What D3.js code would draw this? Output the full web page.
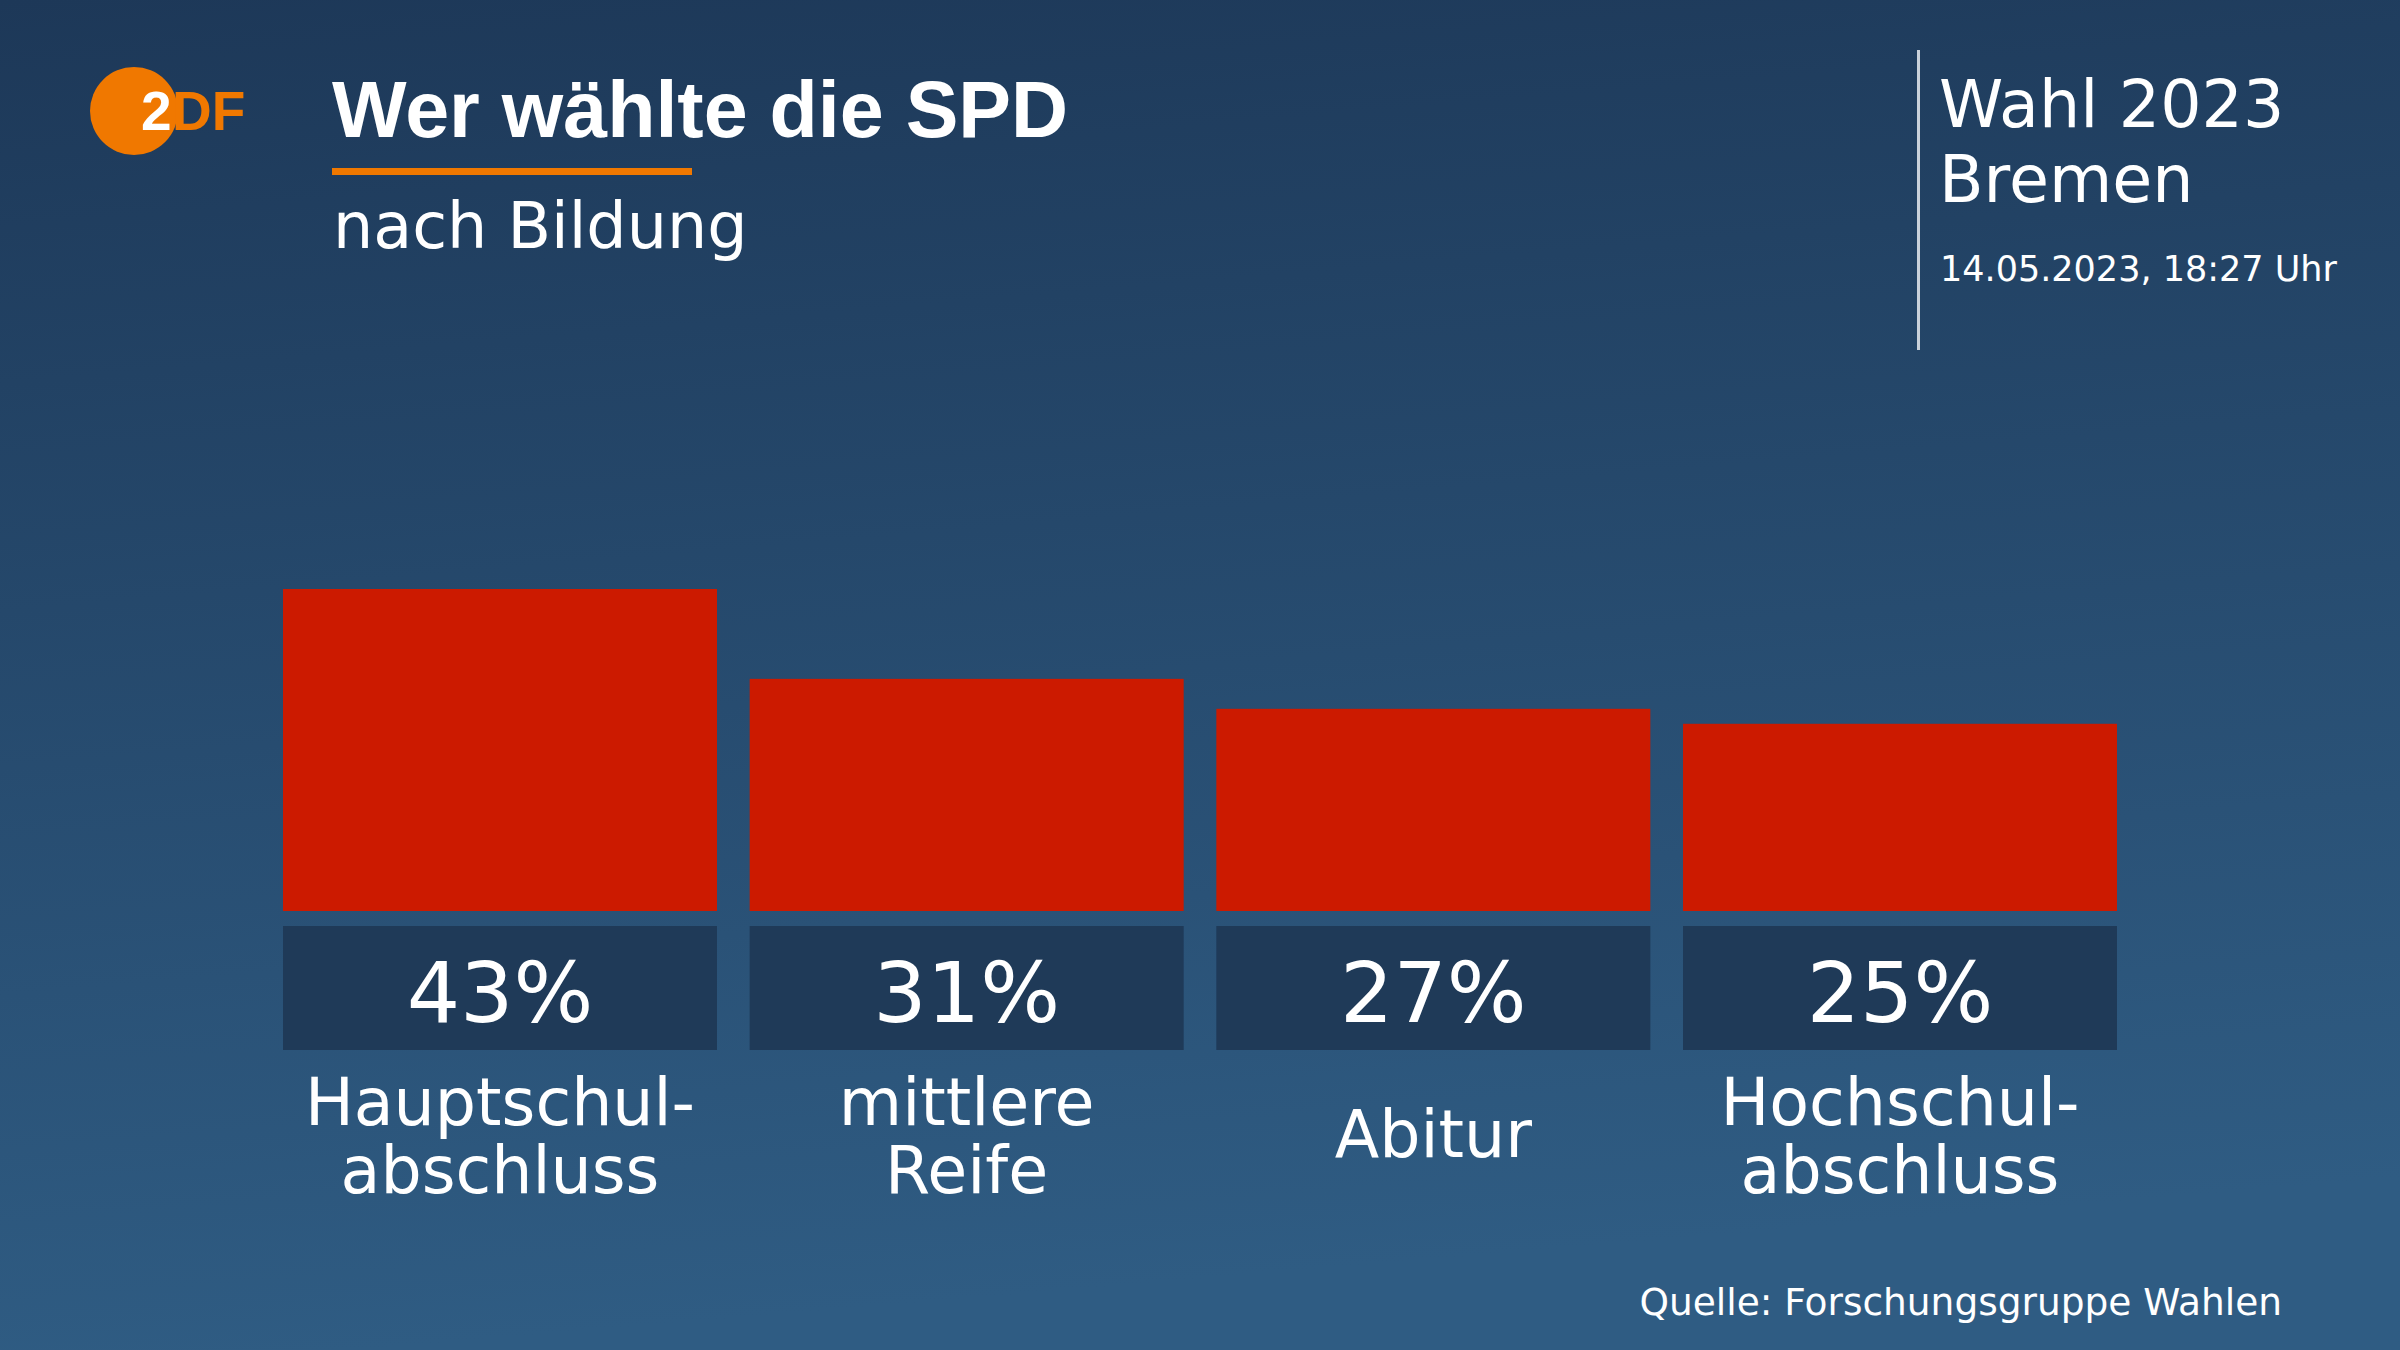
<!DOCTYPE html>
<html>
<head>
<meta charset="utf-8">
<script src="https://cdn.jsdelivr.net/npm/d3@7"></script>
<style>
  html, body { margin: 0; padding: 0; background: #1e3a5b; }
  svg { display: block; }
</style>
</head>
<body>
<script>
// ---- data ----
const categories = ["Hauptschulabschluss", "mittlere Reife", "Abitur", "Hochschulabschluss"];
const labelLines = [["Hauptschul-", "abschluss"], ["mittlere", "Reife"], ["Abitur"], ["Hochschul-", "abschluss"]];
const values = [43, 31, 27, 25];
const title = "Wer wählte die SPD";
const subtitle = "nach Bildung";
const headerLines = ["Wahl 2023", "Bremen"];
const timestamp = "14.05.2023, 18:27 Uhr";
const source = "Quelle: Forschungsgruppe Wahlen";

const W = 2400, H = 1350;
const svg = d3.select("body").append("svg").attr("width", W).attr("height", H);

// background gradient
const defs = svg.append("defs");
const grad = defs.append("linearGradient").attr("id", "bg").attr("x1", 0).attr("y1", 0).attr("x2", 0.15).attr("y2", 1);
grad.append("stop").attr("offset", "0%").attr("stop-color", "#1d3858");
grad.append("stop").attr("offset", "100%").attr("stop-color", "#2f5c83");
svg.append("rect").attr("width", W).attr("height", H).attr("fill", "url(#bg)");

const sans = "'DejaVu Sans', sans-serif";

// logo
const logo = svg.append("g");
logo.append("circle").attr("cx", 134).attr("cy", 111).attr("r", 44).attr("fill", "#f07800");
logo.append("text").attr("x", 141).attr("y", 130).attr("font-family", "'Liberation Sans', sans-serif")
  .attr("font-weight", "bold").attr("font-size", 55).attr("fill", "#ffffff").text("2");
logo.append("text").attr("x", 172).attr("y", 130).attr("font-family", "'Liberation Sans', sans-serif")
  .attr("font-weight", "bold").attr("font-size", 55).attr("fill", "#f07800").text("DF");

// title block
svg.append("text").attr("x", 332).attr("y", 137)
  .attr("font-family", "'Liberation Sans', sans-serif").attr("font-weight", "bold")
  .attr("font-size", 79).attr("fill", "#ffffff").text(title);
svg.append("rect").attr("x", 332).attr("y", 168).attr("width", 360).attr("height", 7).attr("fill", "#f07800");
svg.append("text").attr("x", 333).attr("y", 248)
  .attr("font-family", sans).attr("font-size", 63.5).attr("fill", "#ffffff").text(subtitle);

// header right
svg.append("rect").attr("x", 1917).attr("y", 50).attr("width", 3).attr("height", 300).attr("fill", "#c9d1da");
svg.append("g").selectAll("text").data(headerLines).join("text")
  .attr("x", 1939).attr("y", (d, i) => 127 + i * 75)
  .attr("font-family", sans).attr("font-size", 65).attr("fill", "#ffffff").text(d => d);
svg.append("text").attr("x", 1940).attr("y", 281)
  .attr("font-family", sans).attr("font-size", 35).attr("fill", "#ffffff").text(timestamp);

// scales
const x = d3.scaleBand().domain(categories).range([283, 2117]).paddingInner(0.07).paddingOuter(0);
const y = d3.scaleLinear().domain([0, 43]).range([911, 589]);

// bars
svg.append("g").selectAll("rect").data(values).join("rect")
  .attr("x", (d, i) => x(categories[i]))
  .attr("y", d => y(d))
  .attr("width", x.bandwidth())
  .attr("height", d => y(0) - y(d))
  .attr("fill", "#cc1a00");

// value boxes
const boxTop = 926, boxH = 124;
svg.append("g").selectAll("rect").data(values).join("rect")
  .attr("x", (d, i) => x(categories[i]))
  .attr("y", boxTop)
  .attr("width", x.bandwidth())
  .attr("height", boxH)
  .attr("fill", "#1f3a58");
svg.append("g").selectAll("text").data(values).join("text")
  .attr("x", (d, i) => x(categories[i]) + x.bandwidth() / 2)
  .attr("y", 1022)
  .attr("text-anchor", "middle")
  .attr("font-family", sans).attr("font-size", 84).attr("fill", "#ffffff")
  .text(d => d + "%");

// category labels
const lab = svg.append("g").selectAll("text").data(labelLines).join("text")
  .attr("text-anchor", "middle")
  .attr("font-family", sans).attr("font-size", 65).attr("fill", "#ffffff");
lab.each(function (lines, i) {
  const cx = x(categories[i]) + x.bandwidth() / 2;
  const startY = lines.length === 1 ? 1157 : 1125;
  d3.select(this).selectAll("tspan").data(lines).join("tspan")
    .attr("x", cx).attr("y", (d, j) => startY + j * 68).text(d => d);
});

// source
svg.append("text").attr("x", 2282).attr("y", 1315).attr("text-anchor", "end")
  .attr("font-family", sans).attr("font-size", 37.5).attr("fill", "#ffffff").text(source);
</script>
</body>
</html>
